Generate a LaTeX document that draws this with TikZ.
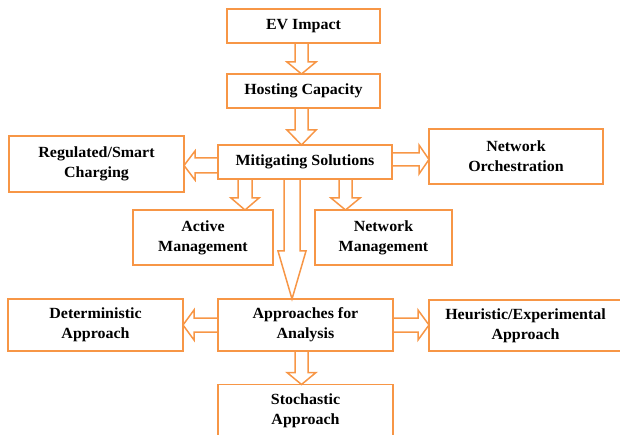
\documentclass[tikz,border=0pt]{standalone}
\usepackage{fontspec}
\setmainfont{Liberation Serif}[FakeStretch=1.03]
\usepackage{xcolor}
\usepackage{tikz}
\usetikzlibrary{
  arrows.meta, positioning, calc
}
\definecolor{cEDGE}{HTML}{F79646}

% hollow block arrow: from, to, shaft half width, head half width, head length
\newcommand{\blockarrow}[5]{%
  \path (#1) coordinate (ba0) (#2) coordinate (ba1)
        ($(ba1)!#5pt!(ba0)$) coordinate (ba2);
  \draw[hollow]
    ($(ba0)!#3pt!90:(ba1)$) -- ($(ba2)!#3pt!-90:(ba0)$) -- ($(ba2)!#4pt!-90:(ba0)$)
    -- (ba1) -- ($(ba2)!#4pt!90:(ba0)$) -- ($(ba2)!#3pt!90:(ba0)$)
    -- ($(ba0)!#3pt!-90:(ba1)$);
}

\begin{document}
\begin{tikzpicture}[
  x=1pt, y=-1pt,
  box/.style={draw=cEDGE, line width=1.5pt, fill=white, outer sep=0pt,
    align=center, inner sep=2pt, font=\bfseries\fontsize{15.5}{20}\selectfont},
  hollow/.style={draw=cEDGE, line width=1.5pt, line join=miter},
]
\useasboundingbox (0,0) rectangle (620,435);

\node[box, minimum width=153pt, minimum height=34pt] (ev)  at (303.5,26)  {EV Impact};
\node[box, minimum width=153pt, minimum height=34pt] (hc)  at (303.5,91)  {Hosting Capacity};
\node[box, minimum width=174pt, minimum height=34pt] (ms)  at (305,162)   {Mitigating Solutions};
\node[box, minimum width=175pt, minimum height=56pt] (rsc) at (96.5,164)  {Regulated/Smart\\Charging};
\node[box, minimum width=174pt, minimum height=55pt] (no)  at (516,156.5) {Network\\Orchestration};
\node[box, minimum width=140pt, minimum height=55pt] (am)  at (203,237.5) {Active\\Management};
\node[box, minimum width=137pt, minimum height=55pt] (nm)  at (383.5,237.5) {Network\\Management};
\node[box, minimum width=175pt, minimum height=52pt] (da)  at (95.5,325)  {Deterministic\\Approach};
\node[box, minimum width=175pt, minimum height=52pt] (aa)  at (305.5,325) {Approaches for\\Analysis};
\node[box, minimum width=193pt, minimum height=51pt] (hea) at (525.5,325.5) {Heuristic/Experimental\\Approach};
\node[box, minimum width=175pt, minimum height=53pt] (sa)  at (305.5,411) {Stochastic\\Approach};

\coordinate (evs) at ($(ev.south)+(-2,0)$);
\coordinate (hcs) at ($(hc.south)+(-2,0)$);
\coordinate (msl) at ($(ms.west)+(0,3.5)$);
\coordinate (msr) at ($(ms.east)+(0,-2.5)$);
\coordinate (msa) at ($(ms.south west)+(27,0)$);
\coordinate (msn) at ($(ms.south west)+(127.5,0)$);
\coordinate (msb) at ($(ms.south west)+(74,0)$);
\coordinate (aas) at ($(aa.south)+(-4,0)$);

\blockarrow{evs}{evs |- hc.north}{6.5}{14.5}{12}
\blockarrow{hcs}{hcs |- ms.north}{6.5}{14.5}{15}
\blockarrow{msl}{msl -| rsc.east}{7.5}{14.5}{11}
\blockarrow{msr}{msr -| no.west}{6.5}{14.5}{10}
\blockarrow{msa}{msa |- am.north}{7}{14}{12}
\blockarrow{msn}{msn |- nm.north}{6.5}{14.5}{12}
\blockarrow{msb}{msb |- aa.north}{8}{14}{48}
\blockarrow{aa.west}{aa.west -| da.east}{7}{15}{11}
\blockarrow{aa.east}{aa.east -| hea.west}{7}{15}{11}
\blockarrow{aas}{aas |- sa.north}{6.5}{14.5}{12}
\end{tikzpicture}
\end{document}
